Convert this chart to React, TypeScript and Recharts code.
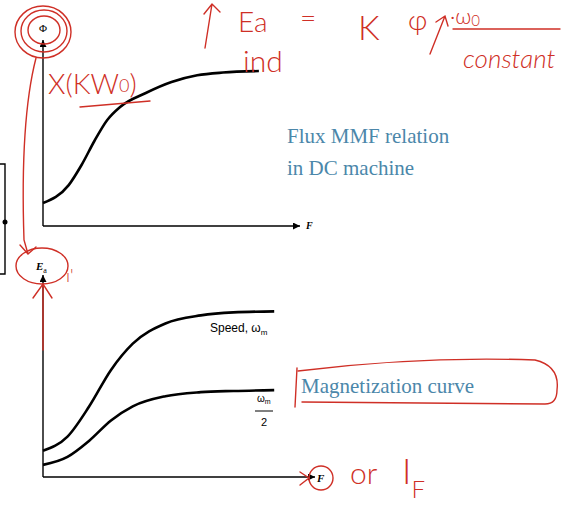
import React from 'react';
import { LineChart, Line, XAxis, YAxis } from 'recharts';

// top plot: flux vs MMF
const fluxMmf = [0, 1, 1.5, 2, 2.5, 3, 4, 5, 6, 7, 8.4];
const fluxVals = [12.4, 22, 32.8, 45.7, 57, 64, 71.5, 77.4, 81, 82.5, 83.3];

// bottom plot: Ea vs MMF at two speeds
const mmf = [0, 0.9, 1.7, 2.5, 3.3, 4.5, 5.8, 7, 8.5];
const eaFullSpeed = [13, 20, 35, 53, 66, 76, 80, 81.5, 82];
const eaHalfSpeed = [6, 10, 18, 28, 35, 40, 42, 42.6, 43];

const fluxData = fluxMmf.map((f, i) => ({ f, phi: fluxVals[i] }));
const eaData = mmf.map((f, i) => ({ f, full: eaFullSpeed[i], half: eaHalfSpeed[i] }));

const RED = '#cf2f26';
const BLUE = '#4b87aa';
const HAND = 'Lato, "DejaVu Sans", sans-serif';

const ArrowDefs = () => (
  <defs>
    <marker id="arrowHead" viewBox="0 0 10 10" refX="10" refY="5" markerWidth="11" markerHeight="7"
      markerUnits="userSpaceOnUse" orient="auto-start-reverse">
      <path d="M0,0 L10,5 L0,10 z" fill="#000" />
    </marker>
  </defs>
);

const axisStyle = { stroke: '#000', strokeWidth: 1.4, markerEnd: 'url(#arrowHead)' };
const yAxisStyle = { stroke: '#000', strokeWidth: 1.4, markerStart: 'url(#arrowHead)' };

export default function App() {
  return (
    <div style={{ position: 'absolute', left: 0, top: 0, width: 580, height: 519, background: '#fff', overflow: 'hidden' }}>
      {/* Flux MMF chart */}
      <div style={{ position: 'absolute', left: 0, top: 0 }}>
        <LineChart width={320} height={240} data={fluxData} margin={{ top: 40, right: 20, bottom: 13, left: 42 }}>
          <ArrowDefs />
          <XAxis dataKey="f" type="number" domain={[0, 10]} tick={false} height={1} axisLine={axisStyle} tickLine={false} />
          <YAxis type="number" domain={[0, 100]} tick={false} width={1} axisLine={yAxisStyle} tickLine={false} />
          <Line dataKey="phi" type="monotone" stroke="#000" strokeWidth={2.6} dot={false} isAnimationActive={false} />
        </LineChart>
      </div>

      {/* Magnetization curve chart */}
      <div style={{ position: 'absolute', left: 0, top: 240 }}>
        <LineChart width={340} height={260} data={eaData} margin={{ top: 35, right: 25, bottom: 22, left: 42 }}>
          <ArrowDefs />
          <XAxis dataKey="f" type="number" domain={[0, 10]} tick={false} height={1} axisLine={axisStyle} tickLine={false} />
          <YAxis type="number" domain={[0, 100]} tick={false} width={1} axisLine={yAxisStyle} tickLine={false} />
          <Line dataKey="full" type="monotone" stroke="#000" strokeWidth={2.6} dot={false} isAnimationActive={false} />
          <Line dataKey="half" type="monotone" stroke="#000" strokeWidth={2.6} dot={false} isAnimationActive={false} />
        </LineChart>
      </div>

      {/* labels and handwritten notes */}
      <svg width={580} height={519} style={{ position: 'absolute', left: 0, top: 0, pointerEvents: 'none' }}>
        {/* left box fragment */}
        <path d="M-2,164 L5,164 L5,274 L-2,274" fill="none" stroke="#000" strokeWidth={1.4} />
        <circle cx={5} cy={222} r={2.5} fill="#000" />

        <text x={43} y={32} fontFamily="Liberation Serif, serif" fontSize={11} textAnchor="middle">Φ</text>
        <text x={306} y={229} fontFamily="Liberation Serif, serif" fontStyle="italic" fontWeight="bold" fontSize={10}>F</text>
        <text x={36} y={270} fontFamily="Liberation Serif, serif" fontStyle="italic" fontWeight="bold" fontSize={11}>
          E<tspan fontSize={8} fontStyle="normal" fontWeight="normal" dy={3}>a</tspan>
        </text>
        <text x={317} y={482} fontFamily="Liberation Serif, serif" fontStyle="italic" fontWeight="bold" fontSize={11}>F</text>

        <text x={210} y={332} fontFamily="Liberation Sans, sans-serif" fontSize={12}>
          Speed, ω<tspan fontSize={8} dy={3}>m</tspan>
        </text>
        <text x={257} y={402} fontFamily="Liberation Sans, sans-serif" fontSize={10}>
          ω<tspan fontSize={7} dy={2}>m</tspan>
        </text>
        <line x1={255} y1={411} x2={273} y2={411} stroke="#000" strokeWidth={1} />
        <text x={264} y={426} fontFamily="Liberation Sans, sans-serif" fontSize={11} textAnchor="middle">2</text>

        <text x={287} y={143} fill={BLUE} fontFamily="Liberation Serif, serif" fontSize={21}>Flux MMF relation</text>
        <text x={287} y={175} fill={BLUE} fontFamily="Liberation Serif, serif" fontSize={21}>in DC machine</text>
        <text x={301} y={393} fill={BLUE} fontFamily="Liberation Serif, serif" fontSize={21}>Magnetization curve</text>

        <g fill={RED} fontFamily={HAND} fontWeight={300}>
          <text x={238} y={32} fontSize={28}>Ea</text>
          <text x={300} y={28} fontSize={28}>=</text>
          <text x={358} y={40} fontSize={34}>K</text>
          <text x={408} y={30} fontSize={28}>φ</text>
          <text x={450} y={24} fontSize={22}>
            ·ω<tspan fontSize={15} dy={2}>0</tspan>
          </text>
          <text x={243} y={72} fontSize={30}>ind</text>
          <text x={463} y={68} fontSize={26} fontStyle="italic">constant</text>
          <text x={48} y={94} fontSize={28}>
            X(KW<tspan fontSize={18} dy={-2}>0</tspan><tspan dy={2}>)</tspan>
          </text>
          <text x={350} y={484} fontSize={30}>or</text>
          <text x={402} y={484} fontSize={36}>
            I<tspan fontSize={24} dy={14}>F</tspan>
          </text>
          <text x={66} y={282} fontSize={18}>ı'</text>
        </g>

        <g fill="none" stroke={RED} strokeWidth={1.4} strokeLinecap="round">
          {/* up arrows */}
          <path d="M205,48 L212,4 M204,14 L212,4 L220,12" />
          <path d="M430,54 L445,16 M436,22 L445,16 L448,26" />
          <line x1={453} y1={29} x2={560} y2={29} />
          <path d="M80,107 Q115,104 150,101" />
          {/* circles around axis labels */}
          <ellipse cx={44} cy={30} rx={16} ry={14} />
          <ellipse cx={44} cy={31} rx={23} ry={21} />
          <ellipse cx={43} cy={32} rx={28} ry={26} />
          <ellipse cx={42} cy={266} rx={26} ry={18} />
          <ellipse cx={321} cy={478} rx={12} ry={12} />
          {/* connecting stroke down the axis */}
          <path d="M36,58 Q20,120 24,240 L28,254 M20,245 L28,254 L36,247" />
          <path d="M43,284 L43,350 M33,298 L43,284 L52,298" />
          <path d="M300,472 L309,478 L300,485" />
          {/* box around Magnetization curve */}
          <path d="M298,371 Q420,356 535,360 Q560,366 557,390 Q557,404 545,404 L302,402" />
          <path d="M297,368 L295,407" />
        </g>
      </svg>
    </div>
  );
}
